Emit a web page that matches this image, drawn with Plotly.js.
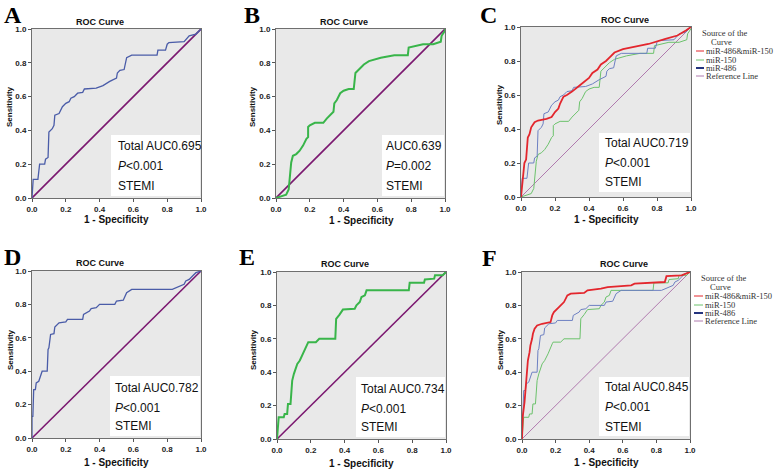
<!DOCTYPE html>
<html><head><meta charset="utf-8">
<script src="https://cdn.plot.ly/plotly-3.0.1.min.js"></script>
<style>html,body{margin:0;padding:0;background:#fff;}#plot{width:778px;height:469px;}</style>
</head><body><div id="plot"></div>
<script>
// Reference (chance) line
const refX = [0, 1];
const refY = [0, 1];

// Panel A: miR-486 (Total AUC 0.695)
const fprA = [0,0.005,0.007,0.035,0.04,0.045,0.075,0.08,0.095,0.1,0.12,0.13,0.135,0.16,0.18,0.2,0.22,0.23,0.25,0.27,0.3,0.31,0.38,0.42,0.46,0.5,0.505,0.52,0.545,0.56,0.59,0.74,0.745,0.79,0.8,0.81,0.9,0.93,0.97,0.98,1];
const tprA = [0,0.06,0.11,0.11,0.19,0.2,0.2,0.23,0.24,0.39,0.41,0.43,0.49,0.5,0.54,0.56,0.57,0.59,0.6,0.62,0.625,0.645,0.65,0.665,0.69,0.71,0.74,0.755,0.76,0.83,0.845,0.845,0.875,0.875,0.91,0.92,0.925,0.96,0.97,0.98,1];

// Panel B: miR-150 (AUC 0.639)
const fprB = [0,0.06,0.075,0.08,0.085,0.09,0.1,0.12,0.14,0.16,0.18,0.19,0.19,0.2,0.23,0.28,0.3,0.32,0.34,0.345,0.36,0.38,0.4,0.43,0.46,0.47,0.49,0.52,0.55,0.62,0.7,0.78,0.785,0.83,0.87,0.93,0.975,0.98,1,1];
const tprB = [0,0.02,0.05,0.12,0.19,0.21,0.25,0.26,0.28,0.31,0.35,0.36,0.42,0.43,0.445,0.445,0.47,0.49,0.51,0.56,0.58,0.62,0.635,0.645,0.645,0.74,0.76,0.79,0.81,0.83,0.845,0.845,0.89,0.9,0.91,0.91,0.925,0.96,0.99,1];

// Panel C: miR-486&miR-150 combined (Total AUC 0.719)
const fprC = [0,0.005,0.01,0.02,0.03,0.035,0.04,0.05,0.06,0.08,0.1,0.15,0.18,0.2,0.22,0.23,0.25,0.27,0.3,0.35,0.4,0.42,0.45,0.47,0.5,0.52,0.55,0.6,0.65,0.75,0.85,0.92,0.97,1];
const tprC = [0,0.05,0.1,0.2,0.22,0.28,0.35,0.37,0.41,0.44,0.45,0.46,0.47,0.5,0.52,0.55,0.59,0.6,0.62,0.66,0.7,0.73,0.75,0.78,0.8,0.82,0.85,0.87,0.88,0.9,0.93,0.95,0.98,1];

// Panel D: miR-486 (Total AUC 0.782)
const fprD = [0,0,0.005,0.01,0.02,0.025,0.04,0.06,0.09,0.095,0.1,0.11,0.13,0.135,0.16,0.2,0.21,0.3,0.305,0.32,0.34,0.35,0.38,0.4,0.49,0.5,0.54,0.56,0.59,0.83,0.87,0.9,0.91,0.93,0.95,0.97,1];
const tprD = [0,0.13,0.13,0.29,0.29,0.33,0.34,0.4,0.4,0.53,0.54,0.62,0.625,0.665,0.69,0.695,0.71,0.71,0.74,0.75,0.76,0.775,0.78,0.8,0.8,0.82,0.825,0.87,0.89,0.89,0.91,0.92,0.94,0.95,0.97,0.99,1];

// Panel E: miR-150 (Total AUC 0.734)
const fprE = [0,0.005,0.01,0.04,0.045,0.06,0.065,0.08,0.085,0.09,0.1,0.11,0.12,0.135,0.155,0.18,0.185,0.23,0.25,0.345,0.35,0.37,0.39,0.46,0.47,0.49,0.5,0.52,0.53,0.78,0.785,0.87,0.875,0.93,0.935,0.98,1];
const tprE = [0,0.08,0.13,0.13,0.15,0.15,0.21,0.21,0.26,0.35,0.39,0.42,0.45,0.47,0.51,0.57,0.58,0.58,0.6,0.6,0.72,0.745,0.775,0.78,0.8,0.82,0.85,0.86,0.89,0.89,0.935,0.935,0.955,0.96,0.98,0.98,1];

// Panel F: miR-486&miR-150 combined (Total AUC 0.845)
const fprF = [0,0.005,0.015,0.02,0.025,0.035,0.045,0.05,0.06,0.065,0.075,0.09,0.12,0.17,0.18,0.19,0.22,0.25,0.27,0.29,0.37,0.39,0.47,0.51,0.65,0.67,0.85,0.86,0.95,0.99,1];
const tprF = [0,0.14,0.22,0.28,0.34,0.47,0.52,0.56,0.6,0.63,0.66,0.68,0.69,0.70,0.74,0.76,0.79,0.82,0.86,0.87,0.875,0.89,0.9,0.91,0.92,0.93,0.94,0.975,0.98,1,1];

const tickVals = [0, 0.2, 0.4, 0.6, 0.8, 1.0];
const letters = ['A','B','C','D','E','F'];
const aucLabels = ['Total AUC0.695','AUC0.639','Total AUC0.719','Total AUC0.782','Total AUC0.734','Total AUC0.845'];
const pLabels = ['<i>P</i>&lt;0.001','<i>P</i>=0.002','<i>P</i>&lt;0.001','<i>P</i>&lt;0.001','<i>P</i>&lt;0.001','<i>P</i>&lt;0.001'];
const groupLabel = 'STEMI';
const legendTitle = ['Source of the','Curve'];
const legendItems = ['miR-486&amp;miR-150','miR-150','miR-486','Reference Line'];

// ---- styling / layout ----
const W = 778, H = 469;
const PX = p => p / W, PY = p => 1 - p / H;
const panels = [
  {x:[32,201], y:[29,198], title:[100,22], ytitle:[10,107], xtitle:[116,219], letter:[13,15], box:[0.465,0.012,0.994,0.37], tx:0.495, ty:[0.31,0.19,0.07]},
  {x:[276,445], y:[29,198], title:[344,22], ytitle:[253,107], xtitle:[361,220], letter:[252,15], box:[0.63,0.012,0.994,0.37], tx:0.64, ty:[0.31,0.19,0.07]},
  {x:[521,691], y:[27,197], title:[625,20], ytitle:[500,105], xtitle:[606,219], letter:[488,15], box:[0.46,0.03,0.994,0.38], tx:0.485, ty:[0.32,0.2,0.09]},
  {x:[32,201], y:[271,438], title:[100,263], ytitle:[10,350], xtitle:[116,462], letter:[13,257], box:[0.46,0.012,0.994,0.37], tx:0.478, ty:[0.30,0.18,0.07]},
  {x:[277,446], y:[272,439], title:[345,264], ytitle:[253,350], xtitle:[361,463], letter:[247,257], box:[0.465,0.012,0.994,0.37], tx:0.485, ty:[0.30,0.18,0.07]},
  {x:[522,690], y:[272,439], title:[624,264], ytitle:[500,350], xtitle:[606,462], letter:[489,258], box:[0.46,0.02,0.994,0.375], tx:0.48, ty:[0.31,0.19,0.07]}
];

const C_PURPLE = '#7b1870', C_PURPLE_L = '#b07aae';
const C_BLUE = '#4a5ca8', C_BLUE_L = '#6d80c2', C_BLUE_LEG = '#24347e';
const C_GREEN = '#39b54a', C_GREEN_L = '#6cc26c';
const C_RED = '#e3262d';

const sans = 'Liberation Sans, Arial, sans-serif';
const serif = 'Liberation Serif, Times New Roman, serif';

function tr(x, y, n, color, width) {
  return {x: x, y: y, xaxis: 'x' + (n === 1 ? '' : n), yaxis: 'y' + (n === 1 ? '' : n),
          type: 'scatter', mode: 'lines', line: {color: color, width: width}, hoverinfo: 'skip', showlegend: false};
}

const data = [
  tr(refX, refY, 1, C_PURPLE, 1.6), tr(fprA, tprA, 1, C_BLUE, 1.3),
  tr(refX, refY, 2, C_PURPLE, 1.6), tr(fprB, tprB, 2, C_GREEN, 2),
  tr(refX, refY, 3, C_PURPLE_L, 1), tr(fprB, tprB, 3, C_GREEN_L, 1), tr(fprA, tprA, 3, C_BLUE_L, 1), tr(fprC, tprC, 3, C_RED, 1.8),
  tr(refX, refY, 4, C_PURPLE, 1.6), tr(fprD, tprD, 4, C_BLUE, 1.3),
  tr(refX, refY, 5, C_PURPLE, 1.6), tr(fprE, tprE, 5, C_GREEN, 2),
  tr(refX, refY, 6, C_PURPLE_L, 1), tr(fprE, tprE, 6, C_GREEN_L, 1), tr(fprD, tprD, 6, C_BLUE_L, 1), tr(fprF, tprF, 6, C_RED, 1.8)
];

const layout = {
  width: W, height: H, margin: {l:0, r:0, t:0, b:0},
  paper_bgcolor: '#ffffff', plot_bgcolor: '#e9e9e9', showlegend: false,
  annotations: [], shapes: []
};

panels.forEach((p, i) => {
  const n = i + 1, sfx = n === 1 ? '' : n;
  const ax = {
    range: [0, 1], tickvals: tickVals, tickformat: '.1f', ticks: 'outside', ticklen: 3, tickwidth: 1,
    tickcolor: '#555', showline: true, mirror: true, linecolor: '#6f6f6f', linewidth: 1,
    showgrid: false, zeroline: false, fixedrange: true,
    tickfont: {family: sans, size: 8, weight: 'bold', color: '#222'}
  };
  layout['xaxis' + sfx] = Object.assign({}, ax, {domain: [PX(p.x[0]), PX(p.x[1])], anchor: 'y' + sfx});
  layout['yaxis' + sfx] = Object.assign({}, ax, {domain: [PY(p.y[1]), PY(p.y[0])], anchor: 'x' + sfx});

  const A = layout.annotations;
  A.push({xref:'paper', yref:'paper', x:PX(p.title[0]), y:PY(p.title[1]), text:'ROC Curve', showarrow:false,
          xanchor:'center', yanchor:'middle', font:{family:sans, size:9, weight:'bold', color:'#111'}});
  A.push({xref:'paper', yref:'paper', x:PX(p.ytitle[0]), y:PY(p.ytitle[1]), text:'Sensitivity', showarrow:false, textangle:-90,
          xanchor:'center', yanchor:'middle', font:{family:sans, size:8, weight:'bold', color:'#111'}});
  A.push({xref:'paper', yref:'paper', x:PX(p.xtitle[0]), y:PY(p.xtitle[1]), text:'1 - Specificity', showarrow:false,
          xanchor:'center', yanchor:'middle', font:{family:sans, size:10, weight:'bold', color:'#111'}});
  A.push({xref:'paper', yref:'paper', x:PX(p.letter[0]), y:PY(p.letter[1]), text:letters[i], showarrow:false,
          xanchor:'center', yanchor:'middle', font:{family:serif, size:24, weight:'bold', color:'#000'}});

  // white label box: an empty annotation with a white background, sized in pixels
  const pw = p.x[1] - p.x[0], ph = p.y[1] - p.y[0];
  const bw = (p.box[2] - p.box[0]) * pw, bh = (p.box[3] - p.box[1]) * ph;
  const cx = p.x[0] + (p.box[0] + p.box[2]) / 2 * pw;
  const cy = p.y[1] - (p.box[1] + p.box[3]) / 2 * ph;
  A.push({xref:'paper', yref:'paper', x:PX(cx), y:PY(cy), xanchor:'center', yanchor:'middle', showarrow:false,
          text:'&nbsp;', width:Math.round(bw), height:Math.round(bh), bgcolor:'#ffffff', borderpad:0, borderwidth:0,
          font:{family:sans, size:10, color:'#ffffff'}});
  const rows = [aucLabels[i], pLabels[i], groupLabel];
  rows.forEach((t, k) => {
    A.push({xref:'x' + sfx, yref:'y' + sfx, x:p.tx, y:p.ty[k], text:t, showarrow:false, xanchor:'left', yanchor:'middle',
            font:{family:sans, size:12, color:'#111'}});
  });
});

// Legends for panels C and F (drawn as text + sample lines)
const legendPos = [
  {titleX:[701,710], titleY:[33,42], lineX:[696,704], textX:705, itemY:[51,60,68,76]},
  {titleX:[700,709], titleY:[278,287], lineX:[694,703], textX:704, itemY:[296,305,313,321]}
];
const legendColors = [C_RED, C_GREEN_L, C_BLUE_LEG, C_PURPLE_L];
const legendWidths = [1, 1, 2, 1];
legendPos.forEach(L => {
  legendTitle.forEach((t, k) => {
    layout.annotations.push({xref:'paper', yref:'paper', x:PX(L.titleX[k]), y:PY(L.titleY[k]), text:t, showarrow:false,
      xanchor:'left', yanchor:'middle', borderpad:0, font:{family:serif, size:8.5, color:'#333'}});
  });
  legendItems.forEach((t, k) => {
    layout.shapes.push({type:'line', xref:'paper', yref:'paper', x0:PX(L.lineX[0]), x1:PX(L.lineX[1]),
      y0:PY(L.itemY[k]), y1:PY(L.itemY[k]), line:{color:legendColors[k], width:legendWidths[k]}});
    layout.annotations.push({xref:'paper', yref:'paper', x:PX(L.textX), y:PY(L.itemY[k]), text:t, showarrow:false,
      xanchor:'left', yanchor:'middle', borderpad:0, font:{family:serif, size:8.5, color:'#333'}});
  });
});

Plotly.newPlot('plot', data, layout, {displayModeBar:false, staticPlot:true});
</script></body></html>
